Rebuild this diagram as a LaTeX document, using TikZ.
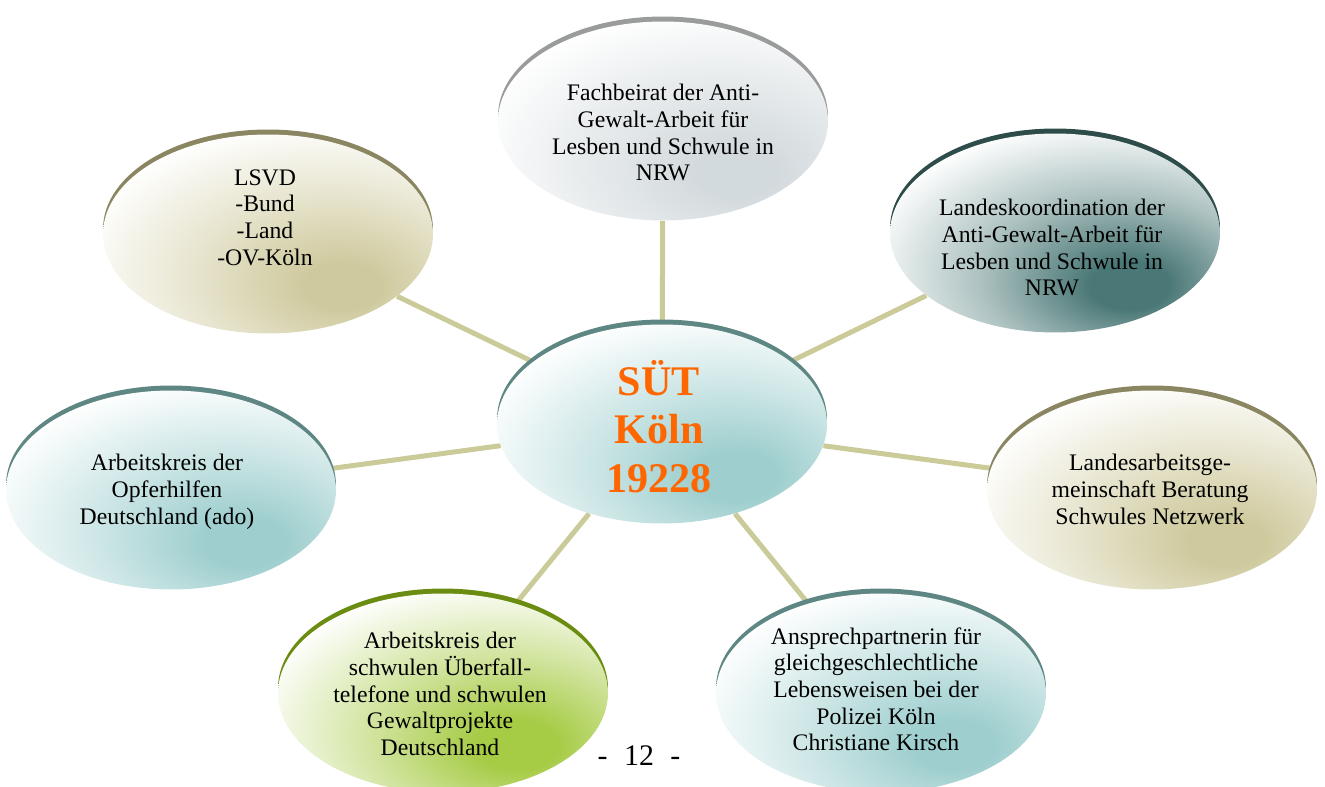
\documentclass[tikz,border=0pt]{standalone}
\usepackage{fontspec}
\setmainfont{Liberation Serif}
\usetikzlibrary{shapes.geometric,backgrounds}
\definecolor{linec}{HTML}{CBCB9A}
\definecolor{orangec}{HTML}{FF6600}
% fill colours (full, mid) and rim colours
\definecolor{tealf}{HTML}{9ECECE}\colorlet{tealm}{tealf!50!white}\definecolor{tealr}{HTML}{5E8784}
\definecolor{khakif}{HTML}{CFCA9E}\colorlet{khakim}{khakif!50!white}\definecolor{khakir}{HTML}{8A8661}
\definecolor{grayf}{HTML}{D3DADD}\colorlet{graym}{grayf!55!white}\definecolor{grayr}{HTML}{9A9C9C}
\definecolor{slatef}{HTML}{4A7876}\colorlet{slatem}{slatef!45!white}\definecolor{slater}{HTML}{2E4C4A}
\definecolor{greenf}{HTML}{A6CB45}\colorlet{greenm}{greenf!50!white}\definecolor{greenr}{HTML}{6A8C10}
\newcommand\mkglow[3]{\pgfdeclareradialshading{#1}{\pgfpoint{12bp}{-14bp}}{color(0bp)=(#2); color(6bp)=(#2); color(21bp)=(#3); color(37bp)=(white); color(100bp)=(white)}}
\mkglow{glowteal}{tealf}{tealm}
\mkglow{glowkhaki}{khakif}{khakim}
\mkglow{glowgray}{grayf}{graym}
\mkglow{glowslate}{slatef}{slatem}
\mkglow{glowgreen}{greenf}{greenm}
\tikzset{
  bub/.style={ellipse, minimum width=6.6cm, minimum height=3.98cm, inner sep=0pt, shade, shading=#1},
  rim/.style={preaction={fill=#1, transform canvas={yshift=0.1cm}}},
  conn/.style={draw=linec, line width=0.1cm},
  txt/.style={align=center, font=\fontsize{13.5}{15.2}\selectfont, inner sep=0pt, anchor=north, text=black},
  bigtxt/.style={align=center, font=\fontsize{24}{27.6}\selectfont\bfseries, inner sep=0pt, anchor=north, text=orangec}
}
\begin{document}
\begin{tikzpicture}[x=0.02cm, y=-0.02cm]
\useasboundingbox (0,0) rectangle (1325,787);
% ellipses
\node[bub=glowteal, rim=tealr] (c) at (662,424) {};
\node[bub=glowgray, rim=grayr] (t) at (663,121) {};
\node[bub=glowkhaki, rim=khakir] (lsvd) at (268,234) {};
\node[bub=glowslate, rim=slater] (lk) at (1055,233) {};
\node[bub=glowteal, rim=tealr] (op) at (171,490) {};
\node[bub=glowkhaki, rim=khakir] (la) at (1152,490) {};
\node[bub=glowgreen, rim=greenr] (sw) at (443,693) {};
\node[bub=glowteal, rim=tealr] (an) at (881,693) {};
% connectors
\begin{scope}[on background layer]
\draw[conn] (c) -- (t);
\draw[conn] (c) -- (lsvd);
\draw[conn] (c) -- (lk);
\draw[conn] (c) -- (op);
\draw[conn] (c) -- (la);
\draw[conn] (c) -- (sw);
\draw[conn] (c) -- (an);
\end{scope}
% texts
\node[bigtxt] (ctext) at (659,360) {SÜT\\Köln\\19228};
\node[txt] (ttext) at (663,84) {Fachbeirat der Anti-\\Gewalt-Arbeit für\\Lesben und Schwule in\\NRW};
\node[txt] (lsvdtext) at (265,169) {LSVD\\-Bund\\-Land\\-OV-Köln};
\node[txt] (lktext) at (1052,199) {Landeskoordination der\\Anti-Gewalt-Arbeit für\\Lesben und Schwule in\\NRW};
\node[txt] (optext) at (167,454) {Arbeitskreis der\\Opferhilfen\\Deutschland (ado)};
\node[txt] (latext) at (1150,454) {Landesarbeitsge-\\meinschaft Beratung\\Schwules Netzwerk};
\node[txt] (swtext) at (440,632) {Arbeitskreis der\\schwulen Überfall-\\telefone und schwulen\\Gewaltprojekte\\Deutschland};
\node[txt] (antext) at (876,627) {Ansprechpartnerin für\\gleichgeschlechtliche\\Lebensweisen bei der\\Polizei Köln\\Christiane Kirsch};
\node[font=\fontsize{17}{20}\selectfont, anchor=base, inner sep=0pt] (pg) at (639,765) {-\hspace{0.55em}12\hspace{0.55em}-};
\end{tikzpicture}
\end{document}
